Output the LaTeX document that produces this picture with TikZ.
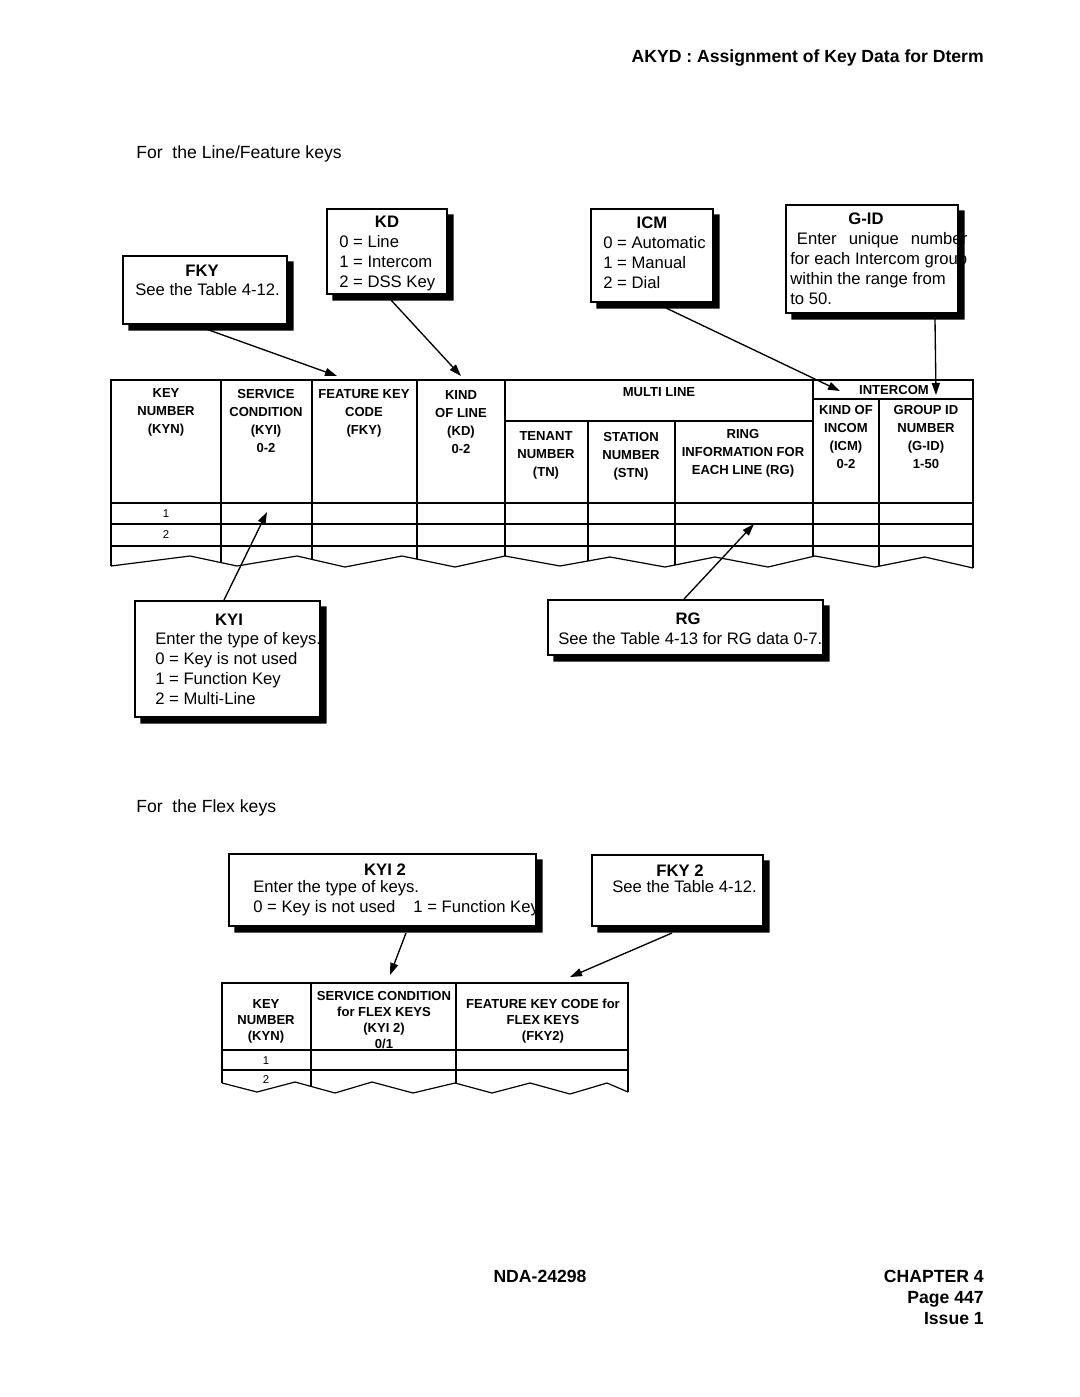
\documentclass[tikz,border=0pt]{standalone}
\usepackage{fontspec}
\setmainfont{Liberation Sans}
\usetikzlibrary{arrows.meta,calc,fit}
\newcommand\mkshadow[1]{%
  \fill ($(#1.north east)+(0,6)$) -- ($(#1.north east)+(6,6)$) -- ($(#1.south east)+(6,6)$)
     -- ($(#1.south west)+(6,6)$) -- ($(#1.south west)+(6,0)$) -- (#1.south east) -- cycle;}
\tikzset{
  cbox/.style={draw, fill=white, line width=1.1pt, inner sep=0pt},
  arr/.style={line width=1pt, -{Triangle[length=9pt,width=6pt]}},
  ttl/.style={font=\fontsize{12.5}{15}\selectfont\bfseries, inner sep=0pt, anchor=base},
  body/.style={font=\fontsize{12.5}{15}\selectfont, inner sep=0pt, anchor=north west, align=left},
  th/.style={font=\fontsize{9.8}{13.5}\selectfont\bfseries, inner sep=0pt, anchor=north, align=center},
  thb/.style={font=\fontsize{9.8}{12}\selectfont\bfseries, inner sep=0pt, anchor=north, align=center},
  num/.style={font=\fontsize{8.5}{10}\selectfont, inner sep=0pt},
  tline/.style={line width=0.9pt},
  big/.style={font=\fontsize{13.2}{16}\selectfont, inner sep=0pt},
  bigb/.style={font=\fontsize{13.2}{16}\selectfont\bfseries, inner sep=0pt},
}
\begin{document}
\begin{tikzpicture}[x=0.75pt,y=-0.75pt]
\useasboundingbox (0,0) rectangle (1080,1397);
\fill[white] (0,0) rectangle (1080,1397);

% page header / section titles
\node[bigb, anchor=base east] (hdr) at (984,62) {AKYD : Assignment of Key Data for Dterm};
\node[big, anchor=base west] (sec1) at (136,158) {For\ \ the Line/Feature keys};
\node[big, anchor=base west] (sec2) at (136,812) {For\ \ the Flex keys};

% footer
\node[bigb, anchor=base] (doc) at (540,1282) {NDA-24298};
\node[bigb, anchor=base east] (chap) at (984,1282) {CHAPTER 4};
\node[bigb, anchor=base east] (page) at (984,1303) {Page 447};
\node[bigb, anchor=base east] (iss) at (984,1324) {Issue 1};

% ---------- callout boxes ----------
\node[cbox, fit={(123,256) (287,324)}] (fky) {};
\node[ttl] (fkyT) at (202,276) {FKY};
\node[body] (fkyB) at (135,283) {See the Table 4-12.};

\node[cbox, fit={(327,209) (447,294)}] (kd) {};
\node[ttl] (kdT) at (387,227) {KD};
\node[body] (kdB) at (339,235) {0 = Line\\1 = Intercom\\2 = DSS Key};

\node[cbox, fit={(591,209) (713,302)}] (icm) {};
\node[ttl] (icmT) at (652,228) {ICM};
\node[body] (icmB) at (603,236) {0 = Automatic\\1 = Manual\\2 = Dial};

\node[cbox, fit={(786,205) (958,313)}] (gid) {};
\node[ttl] (gidT) at (866,224) {G-ID};
\node[body] (gidB) at (790,232) {\hspace{5pt}Enter\hspace{9pt}unique\hspace{9pt}number\\for each Intercom group\\within the range from\\to 50.};

\node[cbox, fit={(135,601) (320,717)}] (kyi) {};
\node[ttl] (kyiT) at (229,625) {KYI};
\node[body] (kyiB) at (155,632) {Enter the type of keys.\\0 = Key is not used\\1 = Function Key\\2 = Multi-Line};

\node[cbox, fit={(548,600) (823,655)}] (rg) {};
\node[ttl] (rgT) at (688,624) {RG};
\node[body] (rgB) at (558,632) {See the Table 4-13 for RG data 0-7.};

\node[cbox, fit={(229,854) (536,926)}] (kyib) {};
\node[ttl] (kyibT) at (385,875) {KYI 2};
\node[body] (kyibB) at (253,880) {Enter the type of keys.\\0 = Key is not used\hspace{10pt} 1 = Function Key};

\node[cbox, fit={(592,855) (763,926)}] (fkyb) {};
\node[ttl] (fkybT) at (680,876) {FKY 2};
\node[body] (fkybB) at (612,880) {See the Table 4-12.};

\foreach \bx in {fky,kd,icm,gid,kyi,rg,kyib,fkyb} {\mkshadow{\bx}}

% ---------- top table ----------
\begin{scope}
\clip (111,380) -- (111,566) -- (190,556) -- (237,566) -- (297,556) -- (345,567) -- (402,556)
  -- (455,567) -- (505,556) -- (560,566) -- (610,557) -- (665,567) -- (715,557) -- (768,567)
  -- (815,556) -- (875,567) -- (925,557) -- (973,568) -- (973,380) -- cycle;
\foreach \x in {221,312,417,505,813} \draw[tline] (\x,380) -- (\x,590);
\foreach \x in {588,675} \draw[tline] (\x,421) -- (\x,590);
\draw[tline] (879,399) -- (879,590);
\end{scope}
\draw[tline] (111,566) -- (111,380) -- (973,380) -- (973,568);
\draw[tline] (111,566) -- (190,556) -- (237,566) -- (297,556) -- (345,567) -- (402,556)
  -- (455,567) -- (505,556) -- (560,566) -- (610,557) -- (665,567) -- (715,557) -- (768,567)
  -- (815,556) -- (875,567) -- (925,557) -- (973,568);
\foreach \y in {503,524,546} \draw[tline] (111,\y) -- (973,\y);
\draw[tline] (505,421) -- (813,421);
\draw[tline] (813,399) -- (973,399);

\node[th] (hKyn) at (166,388) {KEY\\NUMBER\\(KYN)};
\node[th] (hKyi) at (266,389) {SERVICE\\CONDITION\\(KYI)\\0-2};
\node[th] (hFky) at (364,389) {FEATURE KEY\\CODE\\(FKY)};
\node[th] (hKd) at (461,390) {KIND\\OF LINE\\(KD)\\0-2};
\node[th] (hMl) at (659,387) {MULTI LINE};
\node[th] (hTn) at (546,431) {TENANT\\NUMBER\\(TN)};
\node[th] (hStn) at (631,432) {STATION\\NUMBER\\(STN)};
\node[th] (hRg) at (743,429) {RING\\INFORMATION FOR\\EACH LINE (RG)};
\node[th] (hIc) at (894,385) {INTERCOM};
\node[th] (hIcm) at (846,405) {KIND OF\\INCOM\\(ICM)\\0-2};
\node[th] (hGid) at (926,405) {GROUP ID\\NUMBER\\(G-ID)\\1-50};
\node[num] (r1) at (166,513.5) {1};
\node[num] (r2) at (166,535) {2};

% ---------- bottom table ----------
\begin{scope}
\clip (222,983) -- (222,1083) -- (257,1092) -- (295,1082) -- (335,1093) -- (372,1082)
  -- (413,1093) -- (455,1083) -- (492,1093) -- (530,1083) -- (570,1094) -- (607,1083)
  -- (628,1092) -- (628,983) -- cycle;
\foreach \x in {311,456} \draw[tline] (\x,983) -- (\x,1110);
\end{scope}
\draw[tline] (222,1083) -- (222,983) -- (628,983) -- (628,1092);
\draw[tline] (222,1083) -- (257,1092) -- (295,1082) -- (335,1093) -- (372,1082)
  -- (413,1093) -- (455,1083) -- (492,1093) -- (530,1083) -- (570,1094) -- (607,1083)
  -- (628,1092);
\foreach \y in {1050,1070} \draw[tline] (222,\y) -- (628,\y);

\node[thb] (bKyn) at (266,999) {KEY\\NUMBER\\(KYN)};
\node[thb] (bKyi) at (384,991) {SERVICE CONDITION\\for FLEX KEYS\\(KYI 2)\\0/1};
\node[thb] (bFky) at (543,999) {FEATURE KEY CODE for\\FLEX KEYS\\(FKY2)};
\node[num] (b1) at (266,1061) {1};
\node[num] (b2) at (266,1080) {2};

% ---------- connectors ----------
\coordinate (fkyS) at (206,329);  \coordinate (fkyE) at (337,376);
\coordinate (kdS) at (391,300);   \coordinate (kdE) at (461,376);
\coordinate (icmS) at (666,308);  \coordinate (icmE) at (840,391);
\coordinate (gidS) at (935,319);  \coordinate (gidE) at (936,395);
\coordinate (kyiS) at (224,600);  \coordinate (kyiE) at (267,512);
\coordinate (rgS) at (684,599);   \coordinate (rgE) at (754,524);
\coordinate (kyibS) at (406,933); \coordinate (kyibE) at (390,975);
\coordinate (fkybS) at (672,933); \coordinate (fkybE) at (570,977);
\foreach \nm in {fky,kd,icm,gid,kyi,rg,kyib,fkyb} {\draw[arr] (\nm S) -- (\nm E);}
\end{tikzpicture}
\end{document}
